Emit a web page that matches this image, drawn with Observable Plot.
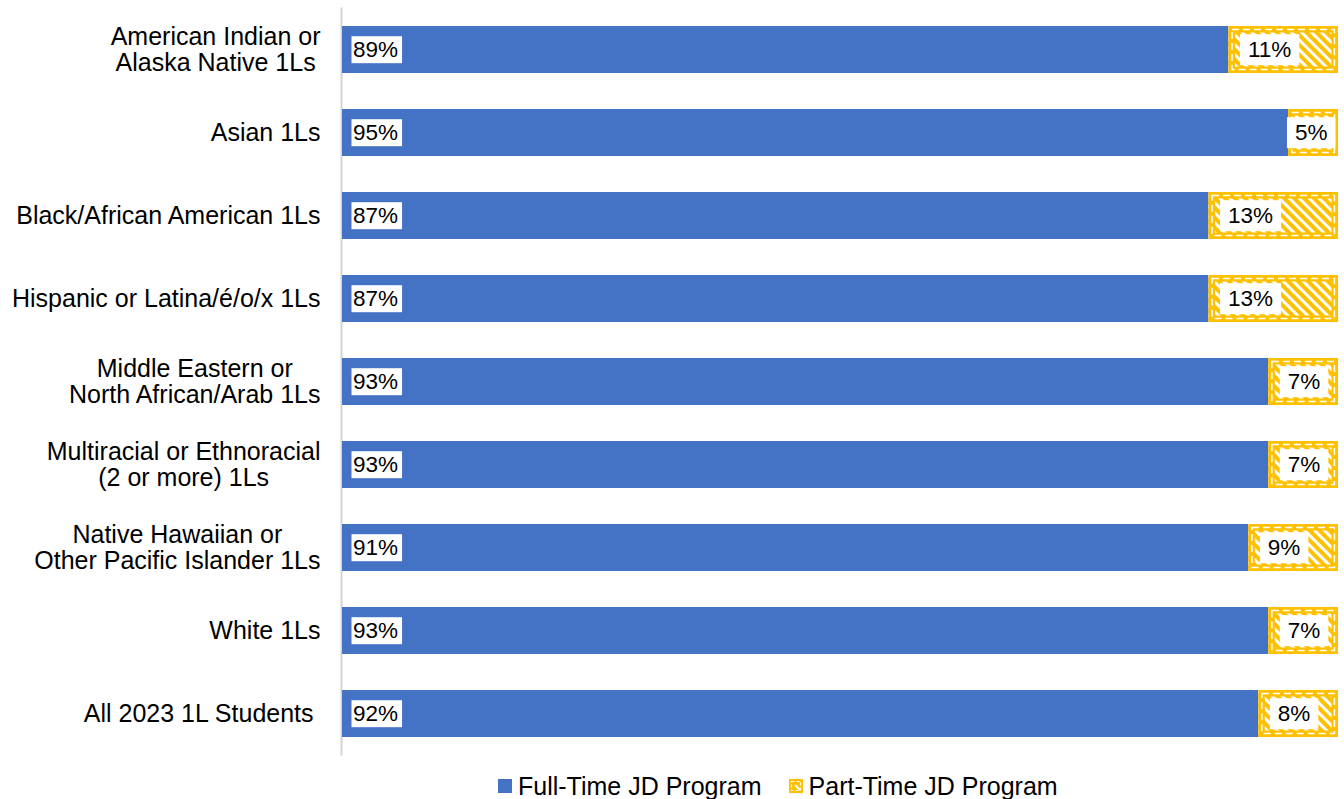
<!DOCTYPE html>
<html>
<head>
<meta charset="utf-8">
<script src="https://cdn.jsdelivr.net/npm/d3@7"></script>
<script src="https://cdn.jsdelivr.net/npm/@observablehq/plot@0.6"></script>
<style>
  html, body { margin: 0; padding: 0; background: #fff; }
  body { width: 1344px; height: 799px; position: relative; overflow: hidden; font-family: "Liberation Sans", Arial, sans-serif; }
  #chart { position: absolute; left: 0; top: 0; }
  #legend { position: absolute; left: 0; top: 766px; width: 1344px; height: 40px; display: flex; align-items: center; padding-left: 498px; box-sizing: border-box; font-size: 25px; color: #000; }
  #legend .sw { width: 14px; height: 14px; display: inline-block; }
  #legend svg { display: block; }
</style>
</head>
<body>
<div id="chart"></div>
<div id="legend">
  <svg class="sw" width="14" height="14"><rect width="14" height="14" fill="#4472C4"/></svg>
  <span style="margin-left:6px">Full-Time JD Program</span>
  <svg class="sw" width="14" height="14" style="margin-left:27px"><rect width="14" height="14" fill="#FFC000"/><rect x="2.5" y="2.5" width="9" height="9" fill="none" stroke="#fff" stroke-width="1.2" stroke-dasharray="3,2"/><line x1="6" y1="6" x2="11" y2="11" stroke="#fff" stroke-width="2"/></svg>
  <span style="margin-left:6px">Part-Time JD Program</span>
</div>
<script>
const categories = [
  "American Indian or\nAlaska Native 1Ls",
  "Asian 1Ls",
  "Black/African American 1Ls",
  "Hispanic or Latina/é/o/x 1Ls",
  "Middle Eastern or\nNorth African/Arab 1Ls",
  "Multiracial or Ethnoracial\n(2 or more) 1Ls",
  "Native Hawaiian or\nOther Pacific Islander 1Ls",
  "White 1Ls",
  "All 2023 1L Students\u00a0"
];
const fullTime = [89, 95, 87, 87, 93, 93, 91, 93, 92];
const partTime = [11, 5, 13, 13, 7, 7, 9, 7, 8];

const rows = categories.map((c, i) => ({cat: c, ft: fullTime[i], pt: partTime[i]}));

const BLUE = "#4472C4";
const GOLD = "#FFC000";

const chart = Plot.plot({
  width: 1344,
  height: 760,
  marginLeft: 342,
  marginRight: 6,
  marginTop: 7.4,
  marginBottom: 4.4,
  style: {fontFamily: "'Liberation Sans', Arial, sans-serif", fontSize: "22.5px", color: "#000", background: "#fff"},
  x: {axis: null, domain: [0, 100]},
  y: {axis: null, domain: categories, paddingInner: 0.435, paddingOuter: 0.2175},
  marks: [
    Plot.ruleX([0], {stroke: "#d4d4d4", strokeWidth: 2, dx: -1}),
    Plot.barX(rows, {y: "cat", x1: 0, x2: "ft", fill: BLUE}),
    Plot.barX(rows, {y: "cat", x1: "ft", x2: d => d.ft + d.pt, fill: "url(#hatch)"}),
    Plot.barX(rows, {y: "cat", x1: "ft", x2: d => d.ft + d.pt, fill: "none", stroke: GOLD, strokeWidth: 6.5, inset: 3.25}),
    Plot.barX(rows, {y: "cat", x1: "ft", x2: d => d.ft + d.pt, fill: "none", stroke: "#fff", strokeWidth: 1.5, strokeDasharray: "7,4", inset: 3.6}),
    Plot.text(rows, {y: "cat", x: 0, text: d => d.ft + "%", textAnchor: "start", dx: 10.5, fill: "#000", fontSize: 22.5}),
    Plot.text(rows, {y: "cat", x: "ft", text: d => d.pt + "%", textAnchor: "start", dx: 19, fill: "#000", fontSize: 22.5}),
    Plot.text(rows, {y: "cat", text: "cat", frameAnchor: "left", textAnchor: "end", dx: -22, fontSize: 25, lineHeight: 1.03, fill: "#000"})
  ]
});

document.getElementById("chart").append(chart);

// hatch pattern
const defs = d3.select(chart).insert("defs", ":first-child");
const pat = defs.append("pattern").attr("id", "hatch")
  .attr("patternUnits", "userSpaceOnUse").attr("width", 7).attr("height", 7)
  .attr("patternTransform", "rotate(-45)");
pat.append("rect").attr("width", 7).attr("height", 7).attr("fill", GOLD);
pat.append("rect").attr("width", 3).attr("height", 7).attr("fill", "#fff");

const xs = chart.scale("x");
const svgRect = chart.getBoundingClientRect();
const textGroups = d3.select(chart).selectAll('g[aria-label="text"]').nodes();
const [ftGroup, ptGroup, catGroup] = textGroups;

function addBoxes(group, padL, padR, padV, clamp) {
  d3.select(group).selectAll("text").each(function(_, i) {
    const node = this;
    let shift = 0;
    if (clamp) {
      const r = node.getBoundingClientRect();
      const right = r.right - svgRect.left + padR;
      const end = xs.apply(fullTime[i] + partTime[i]) - 2.5;
      if (right > end) shift = right - end;
    }
    if (shift) node.setAttribute("transform", (node.getAttribute("transform") || "") + ` translate(${-shift},0)`);
    const bb = node.getBBox();
    d3.select(node.parentNode).insert("rect", () => node)
      .attr("transform", node.getAttribute("transform"))
      .attr("x", bb.x - padL).attr("y", bb.y - padV)
      .attr("width", bb.width + padL + padR).attr("height", bb.height + 2 * padV)
      .attr("fill", "#fff").attr("stroke", "none");
  });
}
if (ftGroup) addBoxes(ftGroup, 1.5, 4, 1, false);
if (ptGroup) addBoxes(ptGroup, 8, 8, 3, true);

// center multi-line category labels (right edge of widest line at the anchor)
if (catGroup) d3.select(catGroup).selectAll("text").each(function() {
  const spans = this.querySelectorAll("tspan");
  if (spans.length > 1) {
    let maxW = 0;
    spans.forEach(s => { maxW = Math.max(maxW, s.getComputedTextLength()); });
    this.setAttribute("text-anchor", "middle");
    spans.forEach(s => s.setAttribute("x", -maxW / 2));
  }
});
</script>
</body>
</html>
